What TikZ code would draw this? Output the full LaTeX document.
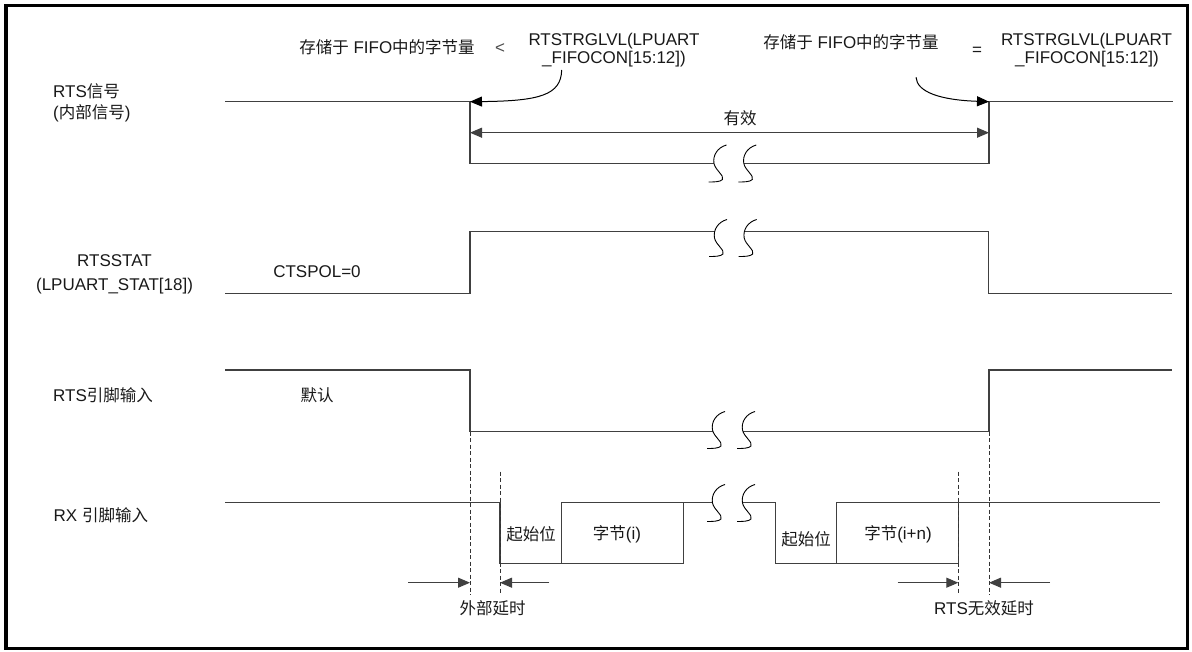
\documentclass[tikz,border=0pt]{standalone}
\usepackage{fontspec}
\setmainfont{Liberation Sans}
\newfontfamily\cjkfont{Noto Sans CJK SC}
\newcommand{\zh}[1]{{\cjkfont\fontsize{16.5}{20}\selectfont #1}}
\usetikzlibrary{arrows.meta}
\newcommand{\brkS}[2]{\draw[brk, shift={(#1,#2)}] (11,-18.5) .. controls (2,-16) and (-3,-8) .. (-1.5,0) .. controls (0,7) and (9,12) .. (7,16) .. controls (5,18.5) and (-2,18.5) .. (-7,18.5);}
\begin{document}
\begin{tikzpicture}[x=1pt,y=-1pt,
  sig/.style={line width=1.2pt, draw=black!75},
  guide/.style={line width=0.9pt, draw=black!80, dash pattern=on 4pt off 2.5pt},
  tipT/.style={-{Triangle[length=12pt,width=10pt]}},
  dimarrow/.style={line width=1.1pt, draw=black!75, tipT},
  curvearrow/.style={line width=1pt, draw=black, tipT},
  brk/.style={line width=0.9pt, draw=black},
  lbl/.style={font=\fontsize{17}{20}\selectfont, inner sep=0pt, text=black!90}
]
\useasboundingbox (0,0) rectangle (1192,652);
\draw[line width=3.5pt] (6,5.3) rectangle (1187.5,648.5);

% ---------- labels ----------
\node[lbl, anchor=base west] (lab1a) at (53,98) {RTS\zh{信号}};
\node[lbl, anchor=base west] (lab1b) at (53,119) {(\zh{内部信号})};
\node[lbl, anchor=base] (lab2a) at (114.5,266.7) {RTSSTAT};
\node[lbl, anchor=base] (lab2b) at (114.5,291) {(LPUART\_STAT[18])};
\node[lbl, anchor=base west] (lab3) at (53,401) {RTS\zh{引脚输入}};
\node[lbl, anchor=base west] (lab4) at (53.5,521.5) {RX \zh{引脚输入}};
\node[lbl, anchor=base] (ctspol) at (317,278) {CTSPOL=0};
\node[lbl, anchor=base] (dflt) at (317,401) {\zh{默认}};

\node[lbl, anchor=base] (fifo1) at (387,54) {\zh{存储于} FIFO\zh{中的字节量}};
\node[lbl, anchor=base, text=black!70] (lt) at (500,54) {<};
\node[lbl, anchor=base] (trg1a) at (614,46) {RTSTRGLVL(LPUART};
\node[lbl, anchor=base] (trg1b) at (614,64) {\_FIFOCON[15:12])};
\node[lbl, anchor=base] (fifo2) at (851,49) {\zh{存储于} FIFO\zh{中的字节量}};
\node[lbl, anchor=center] (eq) at (977,51.3) {=};
\node[lbl, anchor=base] (trg2a) at (1086.5,46) {RTSTRGLVL(LPUART};
\node[lbl, anchor=base] (trg2b) at (1087,64) {\_FIFOCON[15:12])};
\node[lbl, anchor=base] (valid) at (740,124.5) {\zh{有效}};

\node[lbl, anchor=base] (sb1) at (531,540) {\zh{起始位}};
\node[lbl, anchor=base] (by1) at (617,539.5) {\zh{字节}(i)};
\node[lbl, anchor=base] (sb2) at (806,545) {\zh{起始位}};
\node[lbl, anchor=base] (by2) at (898,539) {\zh{字节}(i+n)};
\node[lbl, anchor=base] (ext) at (492.7,614) {\zh{外部延时}};
\node[lbl, anchor=base] (rtsd) at (984,614.5) {RTS\zh{无效延时}};

% ---------- RTS signal (internal) ----------
\coordinate (r0) at (225,101.7);
\coordinate (r1) at (470,101.7);
\coordinate (r2) at (470,163.3);
\coordinate (r3) at (989,163.3);
\coordinate (r4) at (989,101.7);
\coordinate (r5) at (1173,101.7);
\draw[sig] (r0) -- (r1) -- (r2) -- (714,163.3);
\draw[sig] (743.8,163.3) -- (r3) -- (r4) -- (r5);
\brkS{715.5}{163.5}
\brkS{745.3}{163.5}

\coordinate (v0) at (470,132.7);
\coordinate (v1) at (989,132.7);
\draw[sig, {Triangle[length=12pt,width=10pt]}-{Triangle[length=12pt,width=10pt]}] (v0) -- (v1);

\coordinate (c1s) at (561.7,70);
\coordinate (c2s) at (916,77.3);
\draw[curvearrow] (c1s) .. controls (561,95) and (540,101) .. (r1);
\draw[curvearrow] (c2s) .. controls (917,92) and (940,100) .. (r4);

% ---------- RTSSTAT ----------
\draw[sig] (225,293.3) -- (470,293.3) -- (470,231.7) -- (714.5,231.7);
\draw[sig] (744.3,231.7) -- (988.5,231.7) -- (988.5,293.3) -- (1172,293.3);
\brkS{716}{238}
\brkS{745.7}{238}

% ---------- RTS pin ----------
\draw[sig] (225,370) -- (470,370) -- (470,431.7) -- (712.8,431.7);
\draw[sig] (742.8,431.7) -- (989,431.7) -- (989,370) -- (1172,370);
\brkS{714}{430}
\brkS{744}{430}

% ---------- RX pin ----------
\draw[sig] (225,502.7) -- (500,502.7) -- (500,563.3) -- (683.3,563.3) -- (683.3,502.7) -- (712.5,502.7);
\draw[sig] (742.5,502.7) -- (775.7,502.7) -- (775.7,563.3) -- (958.3,563.3) -- (958.3,502.7) -- (1160,502.7);
\draw[sig] (561.7,563.3) -- (561.7,502.7) -- (683.3,502.7);
\draw[sig] (836.7,563.3) -- (836.7,502.7) -- (958.3,502.7);
\brkS{714}{503}
\brkS{744}{503}

% ---------- guides ----------
\coordinate (g1t) at (470,431.7);  \coordinate (g1b) at (470,595);
\coordinate (g2t) at (500,471.7);  \coordinate (g2b) at (500,595);
\coordinate (g3t) at (958.3,471.7);\coordinate (g3b) at (958.3,595);
\coordinate (g4t) at (989,431.7);  \coordinate (g4b) at (989,595);
\draw[guide] (g1t) -- (g1b);
\draw[guide] (g2t) -- (g2b);
\draw[guide] (g3t) -- (g3b);
\draw[guide] (g4t) -- (g4b);

\coordinate (d1a) at (408.3,582.7); \coordinate (d1b) at (470,582.7);
\coordinate (d2a) at (549.3,582.7); \coordinate (d2b) at (500,582.7);
\coordinate (d3a) at (897.7,582.7); \coordinate (d3b) at (958.3,582.7);
\coordinate (d4a) at (1050,582.7);  \coordinate (d4b) at (989,582.7);
\draw[dimarrow] (d1a) -- (d1b);
\draw[dimarrow] (d2a) -- (d2b);
\draw[dimarrow] (d3a) -- (d3b);
\draw[dimarrow] (d4a) -- (d4b);
\end{tikzpicture}
\end{document}
